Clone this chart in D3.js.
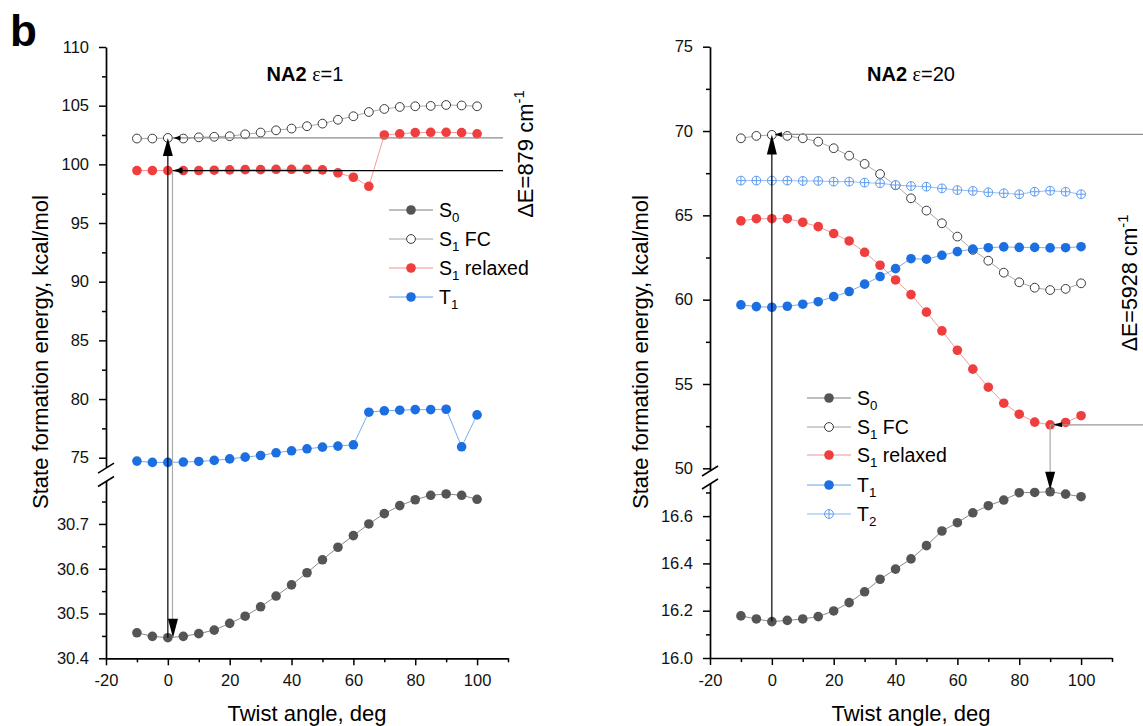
<!DOCTYPE html>
<html>
<head>
<meta charset="utf-8">
<script src="https://cdn.jsdelivr.net/npm/d3@7"></script>
<style>
body { margin: 0; background: #fff; }
svg { font-family: Arial, "Liberation Sans", sans-serif; }
</style>
</head>
<body>
<svg width="1143" height="726"></svg>
<script>
// twist angles (deg), shared by every series
var angles = [-10, -5, 0, 5, 10, 15, 20, 25, 30, 35, 40, 45, 50, 55, 60, 65, 70, 75, 80, 85, 90, 95, 100];

// NA2, eps = 1
var s0_e1    = [30.457, 30.449, 30.446, 30.449, 30.455, 30.463, 30.478, 30.494, 30.515, 30.539, 30.564, 30.591, 30.620, 30.648, 30.674, 30.700, 30.723, 30.741, 30.754, 30.764, 30.767, 30.764, 30.755];
var s1fc_e1  = [102.2, 102.2, 102.25, 102.2, 102.3, 102.35, 102.4, 102.56, 102.71, 102.9, 103.05, 103.25, 103.47, 103.8, 104.1, 104.46, 104.72, 104.89, 104.95, 104.98, 105.06, 105.02, 104.95];
var s1rel_e1 = [99.47, 99.47, 99.47, 99.47, 99.47, 99.5, 99.53, 99.55, 99.55, 99.58, 99.58, 99.58, 99.53, 99.27, 98.9, 98.13, 102.5, 102.6, 102.7, 102.73, 102.73, 102.7, 102.6];
var t1_e1    = [74.71, 74.6, 74.6, 74.63, 74.68, 74.77, 74.9, 75.05, 75.19, 75.42, 75.59, 75.76, 75.9, 75.99, 76.1, 78.88, 79.0, 79.05, 79.1, 79.1, 79.13, 75.93, 78.65];

// NA2, eps = 20
var s0_e20    = [16.178, 16.165, 16.154, 16.159, 16.165, 16.175, 16.199, 16.234, 16.28, 16.333, 16.376, 16.419, 16.475, 16.537, 16.572, 16.614, 16.644, 16.668, 16.699, 16.7, 16.703, 16.693, 16.682];
var s1fc_e20  = [69.57, 69.71, 69.77, 69.71, 69.57, 69.37, 68.98, 68.54, 68.05, 67.45, 66.78, 66.01, 65.28, 64.53, 63.74, 62.95, 62.31, 61.6, 61.03, 60.71, 60.57, 60.64, 60.97];
var s1rel_e20 = [64.67, 64.8, 64.8, 64.8, 64.59, 64.33, 63.92, 63.48, 62.81, 62.04, 61.17, 60.3, 59.26, 58.15, 57.0, 55.88, 54.81, 53.86, 53.21, 52.74, 52.58, 52.72, 53.12];
var t1_e20    = [59.69, 59.59, 59.55, 59.61, 59.73, 59.88, 60.18, 60.48, 60.92, 61.37, 61.84, 62.43, 62.4, 62.63, 62.85, 63.0, 63.08, 63.13, 63.1, 63.1, 63.07, 63.08, 63.14];
var t2_e20    = [67.06, 67.06, 67.06, 67.06, 67.04, 67.04, 67.0, 67.0, 66.94, 66.9, 66.8, 66.74, 66.7, 66.6, 66.5, 66.45, 66.37, 66.31, 66.25, 66.4, 66.46, 66.4, 66.25];

// tick labels
var xTicks = [-20, 0, 20, 40, 60, 80, 100];
var xMinor = [-10, 10, 30, 50, 70, 90, 110];
var upTicks_e1 = [75, 80, 85, 90, 95, 100, 105, 110];
var loTicks_e1 = [30.4, 30.5, 30.6, 30.7];
var upTicks_e20 = [50, 55, 60, 65, 70, 75];
var loTicks_e20 = [16.0, 16.2, 16.4, 16.6];

var svg = d3.select("svg");

var styles = {
  S0:    {fill: "#555555", stroke: "none",    line: "#7d7d7d"},
  S1FC:  {fill: "#ffffff", stroke: "#3a3a3a", line: "#a0a0a0"},
  S1rel: {fill: "#ef3e3e", stroke: "none",    line: "#f39090"},
  T1:    {fill: "#1b6fe0", stroke: "none",    line: "#6ea2ea"},
  T2:    {fill: "#ffffff", stroke: "#5d9bef", line: "#8cb7f3", cross: true}
};
var R = 4.8;

function marker(g, cx, cy, st) {
  g.append("circle").attr("cx", cx).attr("cy", cy).attr("r", st.stroke == "none" ? R : R - 0.4)
    .attr("fill", st.fill).attr("stroke", st.stroke).attr("stroke-width", 1);
  if (st.cross) {
    g.append("path").attr("d", "M" + (cx - R + 0.4) + "," + cy + "H" + (cx + R - 0.4) + "M" + cx + "," + (cy - R + 0.4) + "V" + (cy + R - 0.4))
      .attr("stroke", st.stroke).attr("stroke-width", 1);
  }
}

function arrowHead(g, x, y, dir, len, wid) {
  // tip at (x,y)
  var p;
  if (dir == "up") p = [[x, y], [x - wid / 2, y + len], [x + wid / 2, y + len]];
  if (dir == "down") p = [[x, y], [x - wid / 2, y - len], [x + wid / 2, y - len]];
  if (dir == "left") p = [[x, y], [x + len, y - wid / 2], [x + len, y + wid / 2]];
  g.append("path").attr("d", "M" + p.join("L") + "Z").attr("fill", "#000");
}

function subText(g, x, y, parts, size, anchor) {
  var t = g.append("text").attr("x", x).attr("y", y).attr("font-size", size)
    .attr("text-anchor", anchor || "start");
  parts.forEach(function(p) {
    var ts = t.append("tspan").text(p.t);
    if (p.sub) ts.attr("font-size", size * 0.68).attr("dy", size * 0.28);
    if (p.back) ts.attr("dy", -size * 0.28);
    if (p.sup) ts.attr("font-size", size * 0.68).attr("dy", -size * 0.42);
  });
  return t;
}

var hyphen = function(d) { return String(d); };

function panel(cfg) {
  var g = svg.append("g");
  var x = d3.scaleLinear().domain([-20, 110]).range(cfg.xr);
  var yUp = d3.scaleLinear().domain(cfg.upDom).range(cfg.upRange);
  var yLo = d3.scaleLinear().domain(cfg.loDom).range(cfg.loRange);
  var x0 = cfg.xr[0];

  // x axis
  g.append("g").attr("transform", "translate(0," + cfg.loRange[0] + ")")
    .call(d3.axisBottom(x).tickValues(xTicks).tickFormat(hyphen).tickSize(7).tickPadding(9).tickSizeOuter(0));
  g.append("g").attr("transform", "translate(0," + cfg.loRange[0] + ")")
    .call(d3.axisBottom(x).tickValues(xMinor).tickSize(4).tickFormat("").tickSizeOuter(0))
    .select(".domain").remove();

  // y axes (broken)
  g.append("g").attr("transform", "translate(" + x0 + ",0)")
    .call(d3.axisLeft(yUp).tickValues(cfg.upTicks).tickFormat(hyphen).tickSize(7).tickPadding(10).tickSizeOuter(0));
  g.append("g").attr("transform", "translate(" + x0 + ",0)")
    .call(d3.axisLeft(yUp).tickValues(cfg.upMinor).tickSize(4).tickFormat("").tickSizeOuter(0))
    .select(".domain").remove();
  g.append("g").attr("transform", "translate(" + x0 + ",0)")
    .call(d3.axisLeft(yLo).tickValues(cfg.loTicks).tickSize(7).tickPadding(10).tickSizeOuter(0).tickFormat(d3.format(cfg.loFmt)));
  g.append("g").attr("transform", "translate(" + x0 + ",0)")
    .call(d3.axisLeft(yLo).tickValues(cfg.loMinor).tickSize(4).tickFormat("").tickSizeOuter(0))
    .select(".domain").remove();

  g.selectAll(".domain").attr("stroke-width", 1.7);
  g.selectAll(".tick line").attr("stroke-width", 1.5);
  g.selectAll(".tick text").attr("font-size", 16.5).attr("font-family", "Arial, 'Liberation Sans', sans-serif").attr("fill", "#111");

  // break marks
  [cfg.upRange[0] + 1, cfg.loRange[1] + 1].forEach(function(by) {
    g.append("line").attr("x1", x0 - 8).attr("y1", by + 5).attr("x2", x0 + 8).attr("y2", by - 5)
      .attr("stroke", "#000").attr("stroke-width", 1.5);
  });

  // series
  var lineGroup = g.append("g");
  var dotGroup = g.append("g");
  cfg.series.forEach(function(s) {
    var y = s.lower ? yLo : yUp;
    var st = styles[s.key];
    lineGroup.append("path").datum(s.values)
      .attr("d", d3.line().x(function(d, i) { return x(angles[i]); }).y(function(d) { return y(d); }))
      .attr("fill", "none").attr("stroke", st.line).attr("stroke-width", 0.9);
    s.values.forEach(function(v, i) { marker(dotGroup, x(angles[i]), y(v), st); });
  });

  // title
  var tt = g.append("text").attr("x", cfg.titleX).attr("y", 81).attr("text-anchor", "middle").attr("font-size", 20);
  tt.append("tspan").attr("font-weight", "bold").text("NA2 ");
  tt.append("tspan").attr("font-family", "'Liberation Serif', 'Times New Roman', serif").text("\u03b5");
  tt.append("tspan").text("=" + cfg.eps);

  // axis titles
  g.append("text").attr("transform", "translate(" + cfg.yLabX + ",352) rotate(-90)")
    .attr("text-anchor", "middle").attr("font-size", 22).text("State formation energy, kcal/mol");
  g.append("text").attr("x", (cfg.xr[0] + cfg.xr[1]) / 2).attr("y", 721)
    .attr("text-anchor", "middle").attr("font-size", 22).text("Twist angle, deg");

  // legend
  var lg = g.append("g");
  cfg.legend.forEach(function(it, i) {
    var ly = cfg.legY[i], st = styles[it.key];
    lg.append("line").attr("x1", cfg.legX).attr("x2", cfg.legX + 44).attr("y1", ly).attr("y2", ly)
      .attr("stroke", st.line).attr("stroke-width", 1);
    marker(lg, cfg.legX + 22, ly, st);
    subText(lg, cfg.legX + 50, ly + 7, it.parts, 19.5);
  });

  return {x: x, yUp: yUp, yLo: yLo, g: g};
}

// left panel: eps = 1
var L = panel({
  xr: [106, 508], eps: 1, titleX: 305, yLabX: 48,
  upDom: [74.2, 110], upRange: [467.1, 47],
  loDom: [30.4, 30.797], loRange: [658.3, 480.5], loFmt: ".1f",
  upTicks: upTicks_e1, upMinor: [77.5, 82.5, 87.5, 92.5, 97.5, 102.5, 107.5],
  loTicks: loTicks_e1, loMinor: [30.45, 30.55, 30.65, 30.75],
  series: [
    {key: "S0", values: s0_e1, lower: true},
    {key: "S1FC", values: s1fc_e1},
    {key: "S1rel", values: s1rel_e1},
    {key: "T1", values: t1_e1}
  ],
  legX: 389, legY: [210, 239, 268, 297],
  legend: [
    {key: "S0", parts: [{t: "S"}, {t: "0", sub: true}]},
    {key: "S1FC", parts: [{t: "S"}, {t: "1", sub: true}, {t: " FC", back: true}]},
    {key: "S1rel", parts: [{t: "S"}, {t: "1", sub: true}, {t: " relaxed", back: true}]},
    {key: "T1", parts: [{t: "T"}, {t: "1", sub: true}]}
  ]
});

// right panel: eps = 20
var Rp = panel({
  xr: [710, 1112], eps: 20, titleX: 911, yLabX: 648,
  upDom: [49.9, 75], upRange: [470, 46.7],
  loDom: [16.0, 16.74], loRange: [658, 483], loFmt: ".1f",
  upTicks: upTicks_e20, upMinor: [52.5, 57.5, 62.5, 67.5, 72.5],
  loTicks: loTicks_e20, loMinor: [16.1, 16.3, 16.5, 16.7],
  series: [
    {key: "S0", values: s0_e20, lower: true},
    {key: "S1FC", values: s1fc_e20},
    {key: "T2", values: t2_e20},
    {key: "S1rel", values: s1rel_e20},
    {key: "T1", values: t1_e20}
  ],
  legX: 807, legY: [398, 427, 455, 485, 514],
  legend: [
    {key: "S0", parts: [{t: "S"}, {t: "0", sub: true}]},
    {key: "S1FC", parts: [{t: "S"}, {t: "1", sub: true}, {t: " FC", back: true}]},
    {key: "S1rel", parts: [{t: "S"}, {t: "1", sub: true}, {t: " relaxed", back: true}]},
    {key: "T1", parts: [{t: "T"}, {t: "1", sub: true}]},
    {key: "T2", parts: [{t: "T"}, {t: "2", sub: true}]}
  ]
});

// annotations, left
(function() {
  var g = L.g.append("g"), x = L.x, yUp = L.yUp, yLo = L.yLo;
  var fcY = yUp(s1fc_e1[2]), relY = yUp(s1rel_e1[2]), gsY = yLo(s0_e1[2]);
  var xa = x(0), xb = x(1.5), xe = x(108.4);
  g.append("line").attr("x1", xb).attr("x2", xe).attr("y1", fcY).attr("y2", fcY).attr("stroke", "#8c8c8c").attr("stroke-width", 1.2);
  g.append("line").attr("x1", xb).attr("x2", xe).attr("y1", relY).attr("y2", relY).attr("stroke", "#000").attr("stroke-width", 1.2);
  g.append("line").attr("x1", xb).attr("x2", xb).attr("y1", relY).attr("y2", gsY - 10).attr("stroke", "#aaaaaa").attr("stroke-width", 1.2);
  g.append("line").attr("x1", xa).attr("x2", xa).attr("y1", gsY).attr("y2", fcY + 10).attr("stroke", "#000").attr("stroke-width", 1.2);
  arrowHead(g, xa, fcY, "up", 18, 10);
  arrowHead(g, xb + 0.5, gsY, "down", 19, 10);
  arrowHead(g, xb, relY, "left", 10, 6);
  arrowHead(g, xb + 1, fcY, "left", 7, 5);
  subText(g, 0, 0, [{t: "\u0394E=879 cm"}, {t: "-1", sup: true}], 22, "middle")
    .attr("x", null).attr("y", null).attr("transform", "translate(533,154) rotate(-90)");
})();

// annotations, right
(function() {
  var g = Rp.g.append("g"), x = Rp.x, yUp = Rp.yUp, yLo = Rp.yLo;
  var fcY = yUp(69.8), gsY = yLo(s0_e20[2]);
  var minY = yUp(s1rel_e20[20]), topY = yLo(s0_e20[20]);
  var xa = x(0), xm = x(90);
  g.append("line").attr("x1", xa + 3).attr("x2", 1143).attr("y1", fcY).attr("y2", fcY).attr("stroke", "#8c8c8c").attr("stroke-width", 1.2);
  g.append("line").attr("x1", xa).attr("x2", xa).attr("y1", gsY).attr("y2", fcY + 10).attr("stroke", "#000").attr("stroke-width", 1.2);
  arrowHead(g, xa, fcY, "up", 20, 10);
  arrowHead(g, xa + 3, fcY, "left", 7, 5);
  g.append("line").attr("x1", xm).attr("x2", 1143).attr("y1", minY).attr("y2", minY).attr("stroke", "#9a9a9a").attr("stroke-width", 1.2);
  g.append("line").attr("x1", xm).attr("x2", xm).attr("y1", minY).attr("y2", topY - 10).attr("stroke", "#aaaaaa").attr("stroke-width", 1.2);
  arrowHead(g, xm, topY - 2, "down", 18, 10);
  arrowHead(g, xm + 3, minY, "left", 9, 5);
  subText(g, 0, 0, [{t: "\u0394E=5928 cm"}, {t: "-1", sup: true}], 21.5, "middle")
    .attr("x", null).attr("y", null).attr("transform", "translate(1137,283) rotate(-90)");
})();

// panel letter
svg.append("text").attr("x", 10).attr("y", 46).attr("font-size", 44).attr("font-weight", "bold").text("b");
</script>
</body>
</html>
